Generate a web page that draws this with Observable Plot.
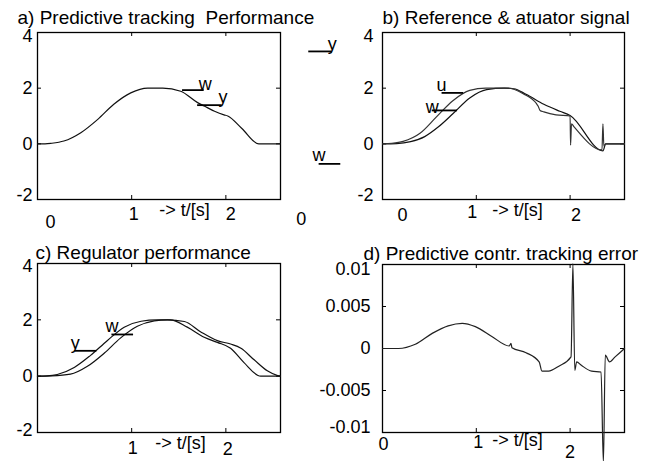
<!DOCTYPE html>
<html><head><meta charset="utf-8">
<script src="https://cdn.jsdelivr.net/npm/d3@7"></script>
<script src="https://cdn.jsdelivr.net/npm/@observablehq/plot@0.6"></script>
<style>
body{margin:0;background:#fff}
#fig{position:relative;width:650px;height:461px;background:#fff;overflow:hidden}
#fig svg{position:absolute;left:0;top:0}
</style></head><body><div id="fig"></div>
<script>
// ---------- data ----------
const tDomain = [0, 2.58];
const yDomainABC = [-2, 4];
const yDomainD = [-0.01, 0.01];

// a) predictive tracking (w and y coincide)
const aT = [0, 0.08, 0.15, 0.28, 0.46, 0.64, 0.81, 0.99, 1.17, 1.33, 1.52, 1.70, 1.77, 1.88, 1.98, 2.02, 2.17, 2.35, 2.58];
const aY = [0, 0, 0.02, 0.10, 0.40, 0.88, 1.42, 1.83, 2.0, 2.0, 1.89, 1.48, 1.36, 1.17, 1.04, 1.0, 0.55, 0, 0];

// b) reference w and actuator u
const bUT = [0, 0.10, 0.22, 0.40, 0.57, 0.75, 0.93, 1.10, 1.34, 1.50, 1.64, 1.66, 1.68, 1.72, 1.85, 2.0, 2.005, 2.015, 2.04, 2.34, 2.35, 2.36, 2.38, 2.58];
const bU  = [0, 0.02, 0.09, 0.38, 0.95, 1.55, 1.92, 2.0, 2.0, 1.8, 1.45, 1.35, 1.2, 1.15, 1.04, 1.0, -0.05, 0.72, 0.62, -0.22, 0.72, -0.08, 0, 0];
const bWT = [0, 0.15, 0.30, 0.45, 0.60, 0.75, 0.93, 1.11, 1.30, 1.40, 1.53, 1.72, 1.89, 2.0, 2.35, 2.38, 2.58];
const bW  = [0, 0.01, 0.08, 0.26, 0.62, 1.08, 1.65, 1.95, 2.0, 1.98, 1.78, 1.42, 1.17, 1.02, -0.25, 0, 0];

// c) regulator performance
const cYT = [0, 0.10, 0.21, 0.39, 0.56, 0.74, 0.92, 1.10, 1.27, 1.41, 1.59, 1.77, 1.91, 2.05, 2.19, 2.37, 2.58];
const cY  = [0, 0.01, 0.06, 0.31, 0.73, 1.26, 1.74, 1.95, 2.0, 2.0, 1.74, 1.38, 1.20, 0.99, 0.49, 0, 0];
const cWT = [0, 0.15, 0.35, 0.53, 0.71, 0.88, 1.06, 1.24, 1.38, 1.56, 1.73, 1.91, 2.05, 2.16, 2.30, 2.44, 2.55, 2.58];
const cW  = [0, 0.01, 0.07, 0.35, 0.82, 1.35, 1.77, 1.96, 2.0, 1.94, 1.58, 1.26, 1.14, 0.99, 0.58, 0.19, 0.02, 0];

// d) predictive controller tracking error
const dT = [0, 0.17, 0.35, 0.53, 0.70, 0.85, 0.99, 1.17, 1.35, 1.37, 1.38, 1.53, 1.67, 1.70, 1.77, 1.88, 2.01, 2.03, 2.05, 2.07, 2.12, 2.23, 2.33, 2.355, 2.375, 2.42, 2.48, 2.58];
const dE = [0, 0, 0.0005, 0.0018, 0.0027, 0.0030, 0.0026, 0.0014, 0.0003, 0.0006, 0.0001, -0.0005, -0.0016, -0.0027, -0.0027, -0.0021, -0.0010, 0.0101, -0.0026, -0.0016, -0.0020, -0.0027, -0.0028, -0.0136, -0.0008, -0.0016, -0.0010, 0];

// texts
const titles = ["a) Predictive tracking  Performance", "b) Reference & atuator signal", "c) Regulator performance", "d) Predictive contr. tracking error"];
const timeLabel = "-> t/[s]";

// annotation anchors (data units of each panel)
const aAnnLines = [{t1: 1.54, t2: 1.77, v: 1.93}, {t1: 1.70, t2: 1.96, v: 1.39}];
const aAnnText  = [{t: 1.78, v: 1.93, label: "w", anchor: "start"}, {t: 1.97, v: 1.45, label: "y", anchor: "start"}];
const strayLines = [{t1: 2.88, t2: 3.13, v: 3.32}, {t1: 2.99, t2: 3.22, v: -0.72}];
const strayText  = [{t: 3.13, v: 3.36, label: "y", anchor: "start"}, {t: 2.99, v: -0.62, label: "w", anchor: "end"}];
const strayZero  = [{t: 2.80, v: -2.70, label: "0"}];
const bAnnLines = [{t1: 0.635, t2: 0.865, v: 1.83}, {t1: 0.53, t2: 0.80, v: 1.20}];
const bAnnText  = [{t: 0.63, v: 1.89, label: "u", anchor: "end"}, {t: 0.53, v: 1.12, label: "w", anchor: "end"}];
const cAnnLines = [{t1: 0.40, t2: 0.63, v: 0.90}, {t1: 0.79, t2: 1.02, v: 1.48}];
const cAnnText  = [{t: 0.40, v: 0.98, label: "y", anchor: "end"}, {t: 0.79, v: 1.57, label: "w", anchor: "end"}];

// ---------- drawing ----------
const zip = (t, v) => t.map((d, i) => ({t: d, v: v[i]}));
const FONT = "'Liberation Sans', Arial, Helvetica, sans-serif";
const fig = document.getElementById("fig");
const fmt = d => String(d);
const TICK_PX = 4;

// inward tick marks on all four sides, length converted from pixels to data units
function innerTicks(xt, yt, yDomain, left, right, top, bottom) {
  const ly = TICK_PX * (yDomain[1] - yDomain[0]) / (bottom - top);
  const lx = TICK_PX * (tDomain[1] - tDomain[0]) / (right - left);
  const s = {stroke: "#000", strokeWidth: 1};
  return [
    Plot.ruleX(xt, {x: d => d, y1: yDomain[0], y2: yDomain[0] + ly, ...s}),
    Plot.ruleX(xt, {x: d => d, y1: yDomain[1], y2: yDomain[1] - ly, ...s}),
    Plot.ruleY(yt, {y: d => d, x1: tDomain[0], x2: tDomain[0] + lx, ...s}),
    Plot.ruleY(yt, {y: d => d, x1: tDomain[1], x2: tDomain[1] - lx, ...s})
  ];
}
const xLab = (ticks, pad, dx) => Plot.axisX(ticks, {anchor: "bottom", tickSize: 0, tickPadding: pad, dx, tickFormat: fmt, label: null, fontSize: 18});
const yLab = (ticks, pad, dy) => Plot.axisY(ticks, {anchor: "left", tickSize: 0, tickPadding: pad, dy, tickFormat: fmt, label: null, fontSize: 18});
const title = (s, dx, dy) => Plot.text([s], {frameAnchor: "top-left", text: d => d, textAnchor: "start", lineAnchor: "bottom", dx, dy, fontSize: 19});
const tLabel = (dx, dy) => Plot.text([timeLabel], {frameAnchor: "bottom-left", text: d => d, textAnchor: "middle", lineAnchor: "middle", dx, dy, fontSize: 18});
const curve = (data, stroke = "#111") => Plot.line(data, {x: "t", y: "v", curve: "monotone-x", stroke, strokeWidth: 1.2});
const annLines = (d) => Plot.ruleY(d, {y: "v", x1: "t1", x2: "t2", stroke: "#000", strokeWidth: 1.8});
const annText = (d) => Plot.text(d, {x: "t", y: "v", text: "label", textAnchor: (e) => e.anchor, lineAnchor: "bottom", fontSize: 18});

function panel({left, right, top, bottom, yDomain, marks}) {
  const svg = Plot.plot({
    width: 650, height: 461,
    marginLeft: left, marginRight: 650 - right, marginTop: top, marginBottom: 461 - bottom,
    x: {domain: tDomain}, y: {domain: yDomain},
    style: {fontFamily: FONT, fontSize: "18px", overflow: "visible", background: "transparent", color: "#000"},
    marks
  });
  fig.appendChild(svg);
}

// a)
panel({left: 37, right: 280, top: 32, bottom: 199, yDomain: yDomainABC, marks: [
  ...innerTicks([1, 2], [0, 2], yDomainABC, 37, 280, 32, 199),
  Plot.frame({stroke: "#000", strokeWidth: 1.3}),
  curve(zip(aT, aY)),
  annLines(aAnnLines), annText(aAnnText),
  annLines(strayLines), annText(strayText),
  Plot.text(strayZero, {x: "t", y: "v", text: "label", fontSize: 18}),
  yLab([0, 2], 5, 0), yLab([4], 5, 4), yLab([-2], 5, -4),
  xLab([1], 7.5, 2), xLab([2], 7.5, 5), xLab([0], 15.5, 13),
  tLabel(147, 11),
  title(titles[0], -20, -9)
]});

// b)
panel({left: 382, right: 624, top: 32, bottom: 199, yDomain: yDomainABC, marks: [
  ...innerTicks([1, 2], [0, 2], yDomainABC, 382, 624, 32, 199),
  Plot.frame({stroke: "#000", strokeWidth: 1.3}),
  curve(zip(bWT, bW)),
  curve(zip(bUT, bU), "#333"),
  annLines(bAnnLines), annText(bAnnText),
  yLab([0, 2], 9, 0), yLab([4], 9, 4), yLab([-2], 9, -4),
  xLab([0], 8.5, 20), xLab([1], 5.5, -4), xLab([2], 8.5, 6),
  tLabel(135, 11),
  title(titles[1], 0, -9)
]});

// c)
panel({left: 37, right: 280, top: 263, bottom: 432, yDomain: yDomainABC, marks: [
  ...innerTicks([1, 2], [0, 2], yDomainABC, 37, 280, 263, 432),
  Plot.frame({stroke: "#000", strokeWidth: 1.3}),
  curve(zip(cWT, cW)),
  curve(zip(cYT, cY)),
  annLines(cAnnLines), annText(cAnnText),
  yLab([0, 2], 5, 0), yLab([4], 5, 3), yLab([-2], 5, -2),
  xLab([1], 8.5, 1), xLab([2], 9.5, 2),
  tLabel(143, 11),
  title(titles[2], -2, -5)
]});

// d)
panel({left: 382, right: 624, top: 264, bottom: 432, yDomain: yDomainD, marks: [
  ...innerTicks([1, 2], [-0.005, 0, 0.005], yDomainD, 382, 624, 264, 432),
  Plot.frame({stroke: "#000", strokeWidth: 1.3}),
  curve(zip(dT, dE), "#222"),
  yLab([-0.005, 0, 0.005], 12, 0), yLab([0.01], 12, 5), yLab([-0.01], 12, -5),
  xLab([0], 5, 1), xLab([1], 3, 2), xLab([2], 13, 0),
  tLabel(135, 8),
  title(titles[3], -19, -5)
]});
</script></body></html>
